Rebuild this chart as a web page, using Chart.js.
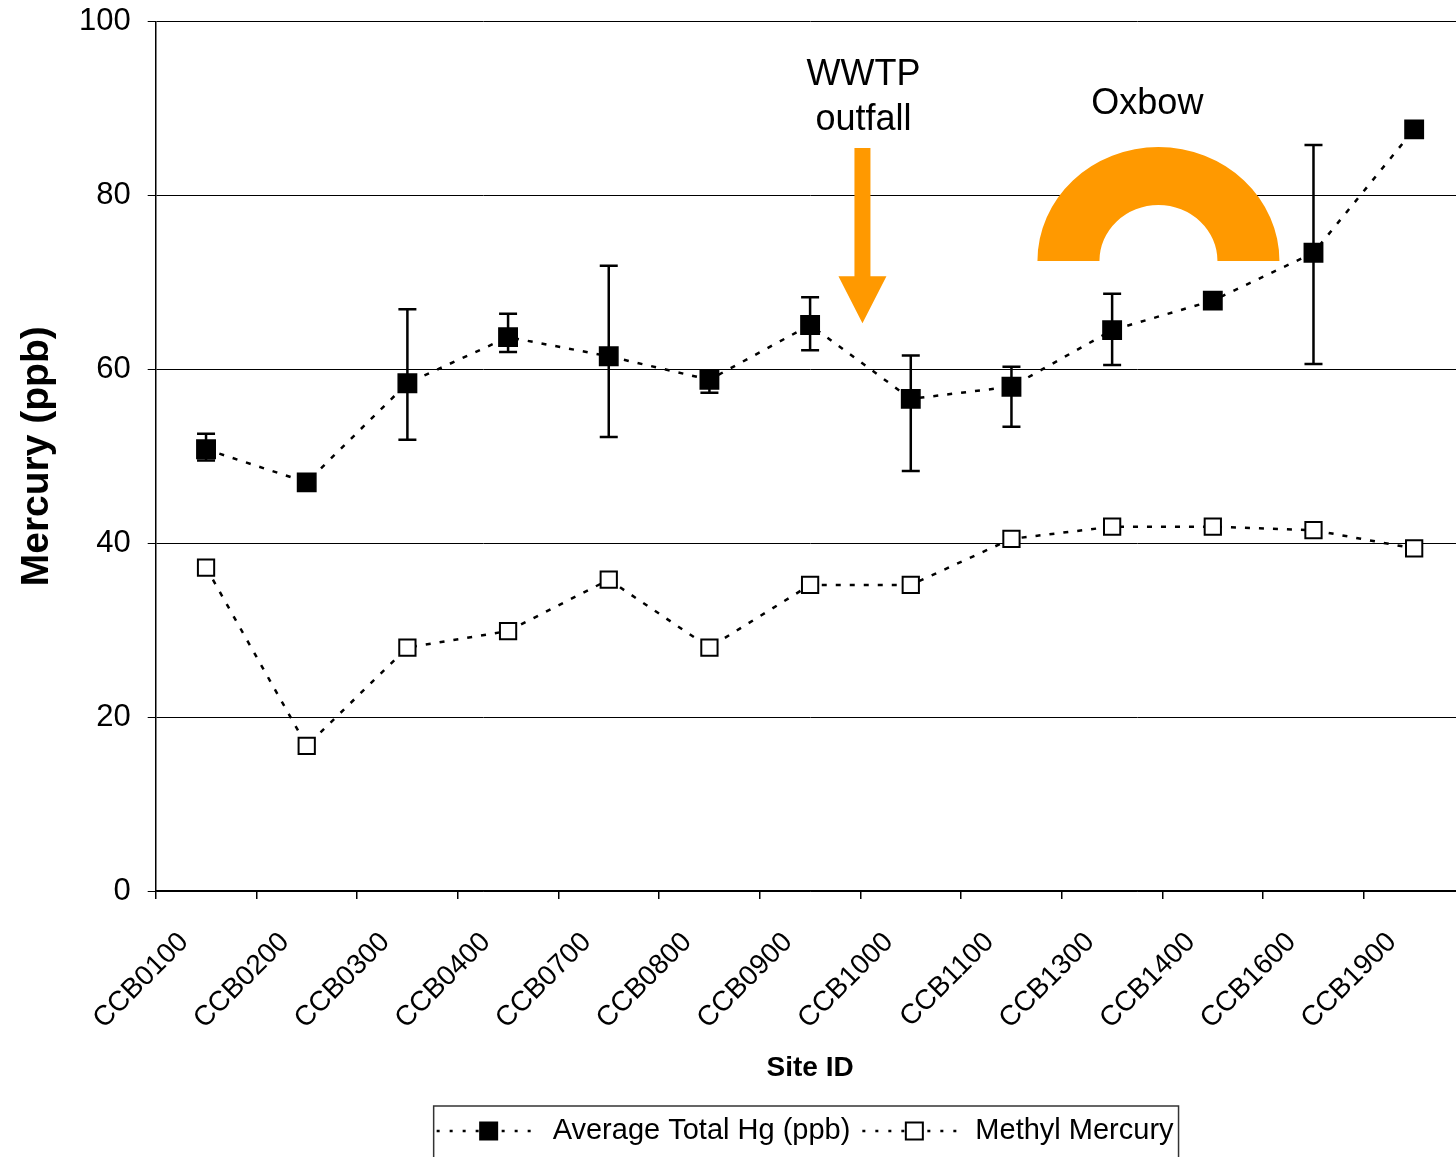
<!DOCTYPE html>
<html>
<head>
<meta charset="utf-8">
<script src="https://cdn.jsdelivr.net/npm/chart.js@4.4.1/dist/chart.umd.min.js"></script>
<style>
  html, body { margin: 0; padding: 0; background: #fff; overflow: hidden; }
  #wrap { width: 1479px; height: 1157px; }
</style>
</head>
<body>
<div id="wrap"><canvas id="hgChart" width="1479" height="1157"></canvas></div>
<script>
const sites = ['CCB0100', 'CCB0200', 'CCB0300', 'CCB0400', 'CCB0700', 'CCB0800', 'CCB0900',
    'CCB1000', 'CCB1100', 'CCB1300', 'CCB1400', 'CCB1600', 'CCB1900'];
const totalHg = [50.8, 47.0, 58.4, 63.7, 61.5, 58.8, 65.1, 56.6, 58.0, 64.5, 67.9, 73.4, 87.6];
const totalHgHigh = [52.6, 47.5, 66.9, 66.4, 71.9, 59.6, 68.3, 61.6, 60.3, 68.7, 68.5, 85.8, 88.2];
const totalHgLow = [49.5, 46.5, 51.9, 62.0, 52.2, 57.3, 62.2, 48.3, 53.4, 60.5, 67.3, 60.6, 87.0];
const methylHg = [37.2, 16.7, 28.0, 29.9, 35.8, 28.0, 35.2, 35.2, 40.5, 41.9, 41.9, 41.5, 39.4];
const yTicks = [0, 20, 40, 60, 80, 100];

const FONT = '"Liberation Sans", Arial, sans-serif';
const ORANGE = 'rgb(255, 153, 0)';

// error bars for the total Hg series, drawn under the markers
const errorBars = {
    id: 'errorBars',
    beforeDatasetsDraw(chart) {
        const ctx = chart.ctx;
        const y = chart.scales.y;
        const meta = chart.getDatasetMeta(0);
        ctx.save();
        ctx.strokeStyle = '#000';
        ctx.lineWidth = 2.5;
        meta.data.forEach((pt, i) => {
            const top = y.getPixelForValue(totalHgHigh[i]);
            const bot = y.getPixelForValue(totalHgLow[i]);
            ctx.beginPath();
            ctx.moveTo(pt.x, top);
            ctx.lineTo(pt.x, bot);
            ctx.moveTo(pt.x - 9, top);
            ctx.lineTo(pt.x + 9, top);
            ctx.moveTo(pt.x - 9, bot);
            ctx.lineTo(pt.x + 9, bot);
            ctx.stroke();
        });
        ctx.restore();
    }
};

// WWTP arrow, oxbow shape and the hand-drawn legend
const extras = {
    id: 'extras',
    afterDraw(chart) {
        const ctx = chart.ctx;
        const x = chart.scales.x;
        const y = chart.scales.y;
        ctx.save();

        // WWTP outfall arrow
        const ax = x.getPixelForValue(6.52);
        const shaftTop = y.getPixelForValue(85.45);
        const headTop = y.getPixelForValue(70.7);
        const tip = y.getPixelForValue(65.3);
        ctx.fillStyle = ORANGE;
        ctx.beginPath();
        ctx.moveTo(ax - 8, shaftTop);
        ctx.lineTo(ax + 8, shaftTop);
        ctx.lineTo(ax + 8, headTop);
        ctx.lineTo(ax + 24, headTop);
        ctx.lineTo(ax, tip);
        ctx.lineTo(ax - 24, headTop);
        ctx.lineTo(ax - 8, headTop);
        ctx.closePath();
        ctx.fill();

        ctx.fillStyle = '#000';
        ctx.font = '36px ' + FONT;
        ctx.textAlign = 'center';
        ctx.textBaseline = 'alphabetic';
        ctx.fillText('WWTP', ax + 1, y.getPixelForValue(92.7));
        ctx.fillText('outfall', ax + 1, y.getPixelForValue(87.5));

        // Oxbow half ring
        const ox = x.getPixelForValue(9.46);
        const oy = y.getPixelForValue(72.45);
        ctx.fillStyle = ORANGE;
        ctx.beginPath();
        ctx.ellipse(ox, oy, 121, 114, 0, Math.PI, 2 * Math.PI);
        ctx.lineTo(ox + 59, oy);
        ctx.ellipse(ox, oy, 59, 56, 0, 2 * Math.PI, Math.PI, true);
        ctx.closePath();
        ctx.fill();
        ctx.fillStyle = '#000';
        ctx.fillText('Oxbow', x.getPixelForValue(9.35), y.getPixelForValue(89.4));

        // legend
        ctx.font = '29px ' + FONT;
        const names = chart.data.datasets.map(d => d.label);
        const w1 = ctx.measureText(names[0]).width;
        const w2 = ctx.measureText(names[1]).width;
        const sample = 104;
        const total = 3 + sample + 12 + w1 + 12 + sample + 9 + w2 + 5;
        const cx = (chart.chartArea.left + chart.chartArea.right) / 2 - 4;
        const left = cx - total / 2;
        const top = chart.chartArea.bottom + 215;
        const ly = top + 25;
        ctx.strokeStyle = '#333';
        ctx.lineWidth = 1.5;
        ctx.strokeRect(left, top, total, 80);

        const drawSample = (sx, filled) => {
            ctx.strokeStyle = '#000';
            ctx.lineWidth = 2.5;
            ctx.setLineDash([3, 10]);
            ctx.beginPath();
            ctx.moveTo(sx, ly);
            ctx.lineTo(sx + sample, ly);
            ctx.stroke();
            ctx.setLineDash([]);
            const mx = sx + sample / 2;
            ctx.fillStyle = filled ? '#000' : '#fff';
            ctx.fillRect(mx - 8.5, ly - 8.5, 17, 17);
            ctx.lineWidth = 2;
            ctx.strokeRect(mx - 8.5, ly - 8.5, 17, 17);
        };
        let sx = left + 3;
        drawSample(sx, true);
        ctx.fillStyle = '#000';
        ctx.textAlign = 'left';
        ctx.textBaseline = 'middle';
        ctx.fillText(names[0], sx + sample + 12, ly);
        sx = sx + sample + 12 + w1 + 12;
        drawSample(sx, false);
        ctx.fillStyle = '#000';
        ctx.fillText(names[1], sx + sample + 9, ly);

        ctx.restore();
    }
};

const ctx = document.getElementById('hgChart').getContext('2d');

const hgChart = new Chart(ctx, {
    type: 'line',
    data: {
        labels: sites,
        datasets: [{
            label: 'Average Total Hg (ppb)',
            data: totalHg,
            borderColor: '#000',
            borderWidth: 2.5,
            borderDash: [5, 9],
            pointStyle: 'rect',
            pointRadius: 13,
            pointBackgroundColor: '#000',
            pointBorderColor: '#000',
            pointBorderWidth: 1.5,
            tension: 0
        },
        {
            label: 'Methyl Mercury',
            data: methylHg,
            borderColor: '#000',
            borderWidth: 2.5,
            borderDash: [5, 9],
            pointStyle: 'rect',
            pointRadius: 11.5,
            pointBackgroundColor: '#fff',
            pointBorderColor: '#000',
            pointBorderWidth: 2,
            tension: 0
        }]
    },
    options: {
        responsive: false,
        animation: false,
        devicePixelRatio: 1,
        layout: {
            padding: { top: 21.5, right: 6, bottom: 72, left: 0 }
        },
        plugins: {
            legend: { display: false },
            tooltip: { enabled: false }
        },
        scales: {
            x: {
                offset: true,
                afterFit(scale) {
                    scale.height = 194;
                    scale.paddingLeft = 0;
                    scale.paddingRight = 0;
                },
                grid: {
                    offset: true,
                    drawOnChartArea: false,
                    drawTicks: true,
                    tickLength: 8,
                    color: '#000',
                    lineWidth: 1.5
                },
                border: { color: '#000', width: 1.5 },
                ticks: {
                    autoSkip: false,
                    minRotation: 45,
                    maxRotation: 45,
                    padding: 27,
                    labelOffset: -22,
                    color: '#000',
                    font: { family: FONT, size: 28 }
                },
                title: {
                    display: true,
                    text: 'Site ID',
                    color: '#000',
                    padding: 0,
                    font: { family: FONT, size: 28, weight: 'bold' }
                }
            },
            y: {
                min: 0,
                max: 100,
                afterFit(scale) {
                    scale.width = 155.7;
                    scale.paddingTop = 0;
                    scale.paddingBottom = 0;
                },
                afterBuildTicks(scale) { scale.ticks = yTicks.map(v => ({ value: v })); },
                grid: {
                    color: '#000',
                    lineWidth: 1,
                    drawTicks: true,
                    tickLength: 8
                },
                border: { color: '#000', width: 1.5 },
                ticks: {
                    padding: 17,
                    color: '#000',
                    font: { family: FONT, size: 31 }
                },
                title: {
                    display: true,
                    text: 'Mercury (ppb)',
                    color: '#000',
                    padding: { top: 14, bottom: 0 },
                    font: { family: FONT, size: 39, weight: 'bold' }
                }
            }
        }
    },
    plugins: [errorBars, extras]
});
</script>
</body>
</html>
